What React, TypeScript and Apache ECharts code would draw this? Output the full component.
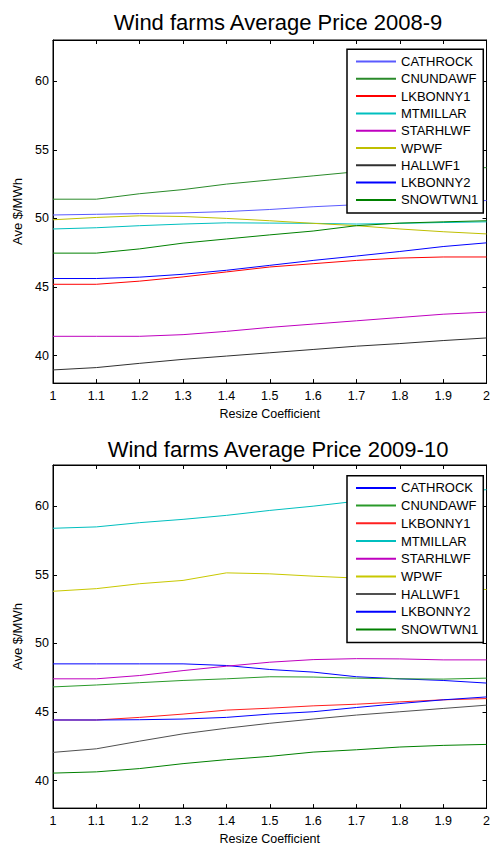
import React, { useEffect, useRef } from "react";
import * as echarts from "echarts";

const XS = [1, 1.1, 1.2, 1.3, 1.4, 1.5, 1.6, 1.7, 1.8, 1.9, 2];
const NAMES = ["CATHROCK", "CNUNDAWF", "LKBONNY1", "MTMILLAR", "STARHLWF", "WPWF", "HALLWF1", "LKBONNY2", "SNOWTWN1"];

// 2008-9
const A_CATHROCK = [50.25, 50.3, 50.35, 50.4, 50.5, 50.65, 50.85, 51.0, 51.15, 51.25, 51.3];
const A_CNUNDAWF = [51.4, 51.4, 51.8, 52.1, 52.5, 52.8, 53.1, 53.4, 53.5, 53.6, 53.7];
const A_LKBONNY1 = [45.2, 45.2, 45.43, 45.74, 46.1, 46.46, 46.7, 46.94, 47.11, 47.19, 47.19];
const A_MTMILLAR = [49.23, 49.32, 49.47, 49.59, 49.68, 49.66, 49.64, 49.59, 49.64, 49.7, 49.75];
const A_STARHLWF = [41.41, 41.41, 41.41, 41.53, 41.77, 42.06, 42.3, 42.54, 42.78, 43.02, 43.17];
const A_WPWF = [49.9, 50.07, 50.19, 50.14, 50.0, 49.83, 49.64, 49.47, 49.23, 49.03, 48.87];
const A_HALLWF1 = [38.96, 39.13, 39.44, 39.73, 39.97, 40.21, 40.45, 40.69, 40.88, 41.1, 41.29];
const A_LKBONNY2 = [45.62, 45.62, 45.72, 45.93, 46.22, 46.58, 46.94, 47.26, 47.59, 47.95, 48.22];
const A_SNOWTWN1 = [47.47, 47.47, 47.78, 48.2, 48.5, 48.8, 49.08, 49.47, 49.66, 49.75, 49.83];

// 2009-10
const B_CATHROCK = [48.51, 48.51, 48.51, 48.51, 48.39, 48.1, 47.91, 47.57, 47.42, 47.3, 47.11];
const B_CNUNDAWF = [46.83, 46.97, 47.14, 47.3, 47.42, 47.57, 47.55, 47.47, 47.42, 47.4, 47.47];
const B_LKBONNY1 = [44.42, 44.42, 44.61, 44.85, 45.14, 45.28, 45.45, 45.57, 45.74, 45.89, 45.98];
const B_MTMILLAR = [58.39, 58.49, 58.8, 59.04, 59.33, 59.69, 60.0, 60.36, 60.75, 61.0, 61.2];
const B_STARHLWF = [47.42, 47.42, 47.66, 48.02, 48.34, 48.63, 48.82, 48.89, 48.87, 48.8, 48.8];
const B_WPWF = [53.8, 53.99, 54.35, 54.59, 55.14, 55.07, 54.9, 54.76, 54.5, 54.2, 53.92];
const B_HALLWF1 = [42.06, 42.32, 42.88, 43.41, 43.82, 44.18, 44.49, 44.78, 45.02, 45.26, 45.5];
const B_LKBONNY2 = [44.42, 44.42, 44.44, 44.49, 44.61, 44.85, 45.02, 45.33, 45.62, 45.89, 46.1];
const B_SNOWTWN1 = [40.55, 40.64, 40.88, 41.24, 41.53, 41.77, 42.08, 42.25, 42.45, 42.57, 42.64];

const COLORS_A = ["#5a5aff", "#2a8a2a", "#ff0000", "#00bfbf", "#bf00bf", "#bfbf00", "#303030", "#0000ff", "#008000"];
const COLORS_B = ["#0000ff", "#2a9a2a", "#ff2020", "#00bfbf", "#bf00bf", "#c8c800", "#505050", "#0000ff", "#008000"];

const FONT = "'Liberation Sans', Arial, sans-serif";

function buildOption(title: string, data: number[][], colors: string[], legendTop: number, itemGap: number, titleTop: number) {
  const axisBase = {
    type: "value" as const,
    axisLine: { show: true, lineStyle: { color: "#000", width: 1 } },
    axisTick: { show: true, inside: true, length: 4, lineStyle: { color: "#000" } },
    splitLine: { show: false },
  };
  return {
    animation: false,
    backgroundColor: "#fff",
    textStyle: { fontFamily: FONT },
    title: {
      text: title,
      left: 273,
      textAlign: "center",
      top: titleTop,
      textStyle: { fontFamily: FONT, fontSize: 22, fontWeight: "normal", color: "#000" },
    },
    grid: { left: 53, top: 40, width: 439, height: 346, show: true, borderColor: "#000", borderWidth: 1, backgroundColor: "#fff" },
    legend: {
      orient: "vertical",
      left: 347,
      top: legendTop,
      data: NAMES,
      selectedMode: false,
      itemWidth: 40,
      itemHeight: 14,
      itemGap: itemGap,
      padding: [5.7, 5, 6.5, 8],
      backgroundColor: "#fff",
      borderColor: "#000",
      borderWidth: 1.5,
      borderRadius: 0,
      itemStyle: { opacity: 0 },
      textStyle: { fontFamily: FONT, fontSize: 13, color: "#000" },
    },
    xAxis: [
      {
        ...axisBase,
        min: 1,
        max: 2,
        interval: 0.1,
        name: "Resize Coefficient",
        nameLocation: "middle",
        nameGap: 23,
        nameTextStyle: { fontFamily: FONT, fontSize: 12.5, color: "#000" },
        axisLabel: { fontFamily: FONT, fontSize: 12.5, color: "#000", margin: 6, formatter: (v: number) => String(Math.round(v * 10) / 10) },
      },
      { ...axisBase, position: "top", min: 1, max: 2, interval: 0.1, axisLabel: { show: false } },
    ],
    yAxis: [
      {
        ...axisBase,
        min: 38,
        max: 63,
        splitNumber: 5,
        name: "Ave $/MWh",
        nameLocation: "middle",
        nameGap: 27,
        nameRotate: 90,
        nameTextStyle: { fontFamily: FONT, fontSize: 13, color: "#000" },
        axisLabel: {
          fontFamily: FONT, fontSize: 12.5, color: "#000", margin: 4, showMinLabel: false, showMaxLabel: false,
          formatter: (v: number) => (v % 5 === 0 ? String(v) : ""),
        },
      },
      { ...axisBase, position: "right", min: 38, max: 63, splitNumber: 5, axisLabel: { show: false } },
    ],
    series: data.map((vals, i) => ({
      name: NAMES[i],
      type: "line",
      symbol: "none",
      smooth: false,
      color: colors[i],
      lineStyle: { color: colors[i], width: 1 },
      data: XS.map((x, j) => [x, vals[j]]),
    })),
  };
}

function Chart(props: { option: any; top: number }) {
  const ref = useRef<HTMLDivElement>(null);
  useEffect(() => {
    if (!ref.current) return;
    const chart = echarts.init(ref.current, undefined, { renderer: "svg" });
    chart.setOption(props.option);
    return () => chart.dispose();
  }, []);
  return <div ref={ref} style={{ position: "absolute", left: 0, top: props.top, width: 493, height: 425 }} />;
}

export default function App() {
  const optA = buildOption(
    "Wind farms Average Price 2008-9",
    [A_CATHROCK, A_CNUNDAWF, A_LKBONNY1, A_MTMILLAR, A_STARHLWF, A_WPWF, A_HALLWF1, A_LKBONNY2, A_SNOWTWN1],
    COLORS_A,
    49.3,
    4.3,
    6
  );
  const optB = buildOption(
    "Wind farms Average Price 2009-10",
    [B_CATHROCK, B_CNUNDAWF, B_LKBONNY1, B_MTMILLAR, B_STARHLWF, B_WPWF, B_HALLWF1, B_LKBONNY2, B_SNOWTWN1],
    COLORS_B,
    50.7,
    4.7,
    8
  );
  return (
    <div style={{ position: "fixed", left: 0, top: 0, width: 493, height: 850, background: "#fff", overflow: "hidden" }}>
      <Chart option={optA} top={0} />
      <Chart option={optB} top={425} />
    </div>
  );
}
